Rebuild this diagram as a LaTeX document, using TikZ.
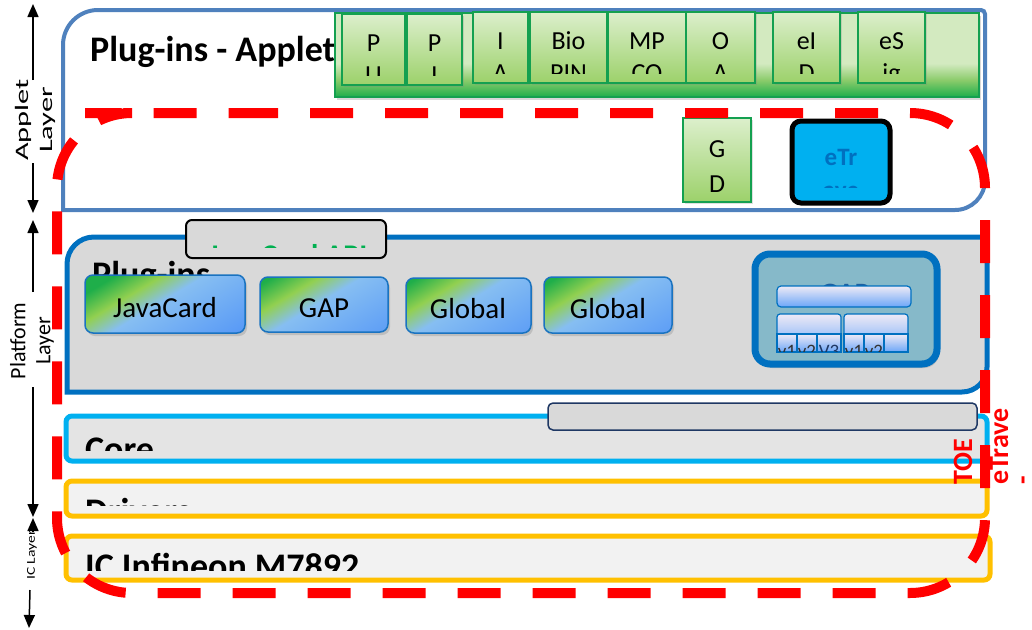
\documentclass[tikz,border=0pt]{standalone}
\usepackage{fontspec}
\setmainfont{Carlito}
\usepackage{graphicx}
\usetikzlibrary{arrows.meta,shadows,fit}
\definecolor{appblue}{HTML}{4F81BD}
\definecolor{platblue}{HTML}{0070C0}
\definecolor{coreblue}{HTML}{00B0F0}
\definecolor{drvorange}{HTML}{FFC000}
\definecolor{platgray}{HTML}{D9D9D9}
\definecolor{coregray}{HTML}{E4E4E4}
\definecolor{drvgray}{HTML}{F2F2F2}
\definecolor{gbD}{HTML}{1DAE4C}
\definecolor{gbM}{HTML}{8ACB6A}
\definecolor{gbL}{HTML}{D3EAC0}
\definecolor{gboxT}{HTML}{DCEFCC}
\definecolor{gboxB}{HTML}{9CD16A}
\definecolor{gborder}{HTML}{14A050}
\definecolor{btnG}{HTML}{1FAE4A}
\definecolor{btnY}{HTML}{92D050}
\definecolor{btnLB}{HTML}{86BEF2}
\definecolor{btnB}{HTML}{5A9BF6}
\definecolor{btnborder}{HTML}{1A73C0}
\definecolor{gapfill}{HTML}{86B9C9}
\definecolor{gaptext}{HTML}{1F5F9F}
\definecolor{barT}{HTML}{EEEAF6}
\definecolor{barB}{HTML}{6BA6F8}
\definecolor{navy}{HTML}{1F3864}
\definecolor{apigreen}{HTML}{00B050}
\definecolor{etrcyan}{HTML}{00B0F0}
\definecolor{etrtext}{HTML}{0070C0}
\pgfdeclareverticalshading{gbarsh}{100bp}{color(0bp)=(gbD); color(25bp)=(gbD); color(35bp)=(gbM); color(45bp)=(gbL); color(100bp)=(gbL)}
\pgfdeclareverticalshading{btnsh}{100bp}{color(0bp)=(btnB); color(35bp)=(btnB); color(51bp)=(btnLB); color(56.5bp)=(btnY); color(62.5bp)=(btnG); color(100bp)=(btnG)}
\newcommand{\fsz}[2]{\fontsize{#1}{#2}\selectfont}
\newcommand{\appbx}[7]{%
  \node[gbox, fit={(#2,#3) (#4,#5)}] (#1) {};
  \begin{scope}
    \clip (#2,#3) rectangle (#4,#5-10);
    \node[apptxt] (#1a) at ({(#2+#4)/2},#3+37) {#6};
    \node[apptxt] (#1b) at ({(#2+#4)/2},#3+69) {#7};
  \end{scope}}
\tikzset{
  gbox/.style={draw=gborder, line width=1.5, top color=gboxT, bottom color=gboxB, inner sep=0pt, drop shadow={opacity=0.25,shadow xshift=2pt,shadow yshift=-2pt}},
  apptxt/.style={anchor=base, inner sep=0pt, font=\fsz{26}{30}},
  hdr/.style={anchor=base west, inner sep=0pt, font={\fsz{36}{40}\bfseries}},
  btn/.style={draw=btnborder, line width=1.5, rounded corners=8, inner sep=0pt, fill=btnLB,
    drop shadow={opacity=0.3,shadow xshift=2pt,shadow yshift=-3pt},
    path picture={\shade[shading=btnsh, sharp corners, transform canvas={rotate around={31:(path picture bounding box.center)}}]
      ([shift={(-100,-100)}]path picture bounding box.center) rectangle ([shift={(100,100)}]path picture bounding box.center);}},
  btntxt/.style={anchor=base, inner sep=0pt, font=\fsz{29}{34}},
  layerbox/.style={line width=5, rounded corners=6, inner sep=0pt},
  cell/.style={draw=platblue, line width=1.2, top color=barT, bottom color=barB, inner sep=0pt},
  celltxt/.style={anchor=base, inner sep=0pt, font=\fsz{19}{22}, text=black!80},
  arr/.style={line width=1.5, -{Triangle[length=13pt,width=11pt]}},
  toe/.style={rotate=90, anchor=base west, inner sep=0pt, text=red, font={\fsz{28}{32}\bfseries}},
  sidelbl/.style={rotate=90, align=center, inner sep=0pt},
}
\begin{document}
\begin{tikzpicture}[x=1pt,y=-1pt]
\useasboundingbox (0,0) rectangle (1032,629);

% ---------- Applet layer ----------
\draw[line width=4, draw=appblue, fill=white] (63,210) -- (63,45) arc[start angle=180, end angle=270, radius=35] -- (981,10) arc[start angle=270, end angle=360, radius=4] -- (985,180) arc[start angle=0, end angle=90, radius=30] -- cycle;
\node[hdr] (apptitle) at (90,61) {Plug-ins - Applet};
\node[fit={(335,13) (979,97)}, inner sep=0pt, draw=gborder, line width=2, shade, shading=gbarsh, drop shadow={opacity=0.3,shadow xshift=2pt,shadow yshift=-3pt}] (gbar) {};
\appbx{pu}{342}{14}{405}{85}{P}{U}
\appbx{pi}{407}{14}{462}{85}{P}{I}
\appbx{ia}{473}{12}{528}{83}{I}{A}
\appbx{bio}{530}{12}{607}{83}{Bio}{PIN}
\appbx{mp}{608}{12}{686}{83}{MP}{CO}
\appbx{oa}{686}{12}{755}{83}{O}{A}
\appbx{eid}{773}{12}{840}{83}{eI}{D}
\appbx{esig}{858}{12}{925}{83}{eS}{ig}
\node[gbox, fit={(683,118) (751,202)}] (gd) {};
\node[apptxt] (gda) at (717,157) {G};
\node[apptxt] (gdb) at (717,192) {D};
\node[fit={(792,121) (890,203)}, inner sep=0pt, draw=black, line width=5, fill=etrcyan, rounded corners=9] (etr) {};
\begin{scope}
  \clip (792,121) rectangle (890,187);
  \node[anchor=base, inner sep=0pt, font={\fsz{25}{30}\bfseries}, text=etrtext] (etra) at (841,165) {eTr};
  \node[anchor=base, inner sep=0pt, font={\fsz{25}{30}\bfseries}, text=etrtext] (etrb) at (841,198) {ave};
\end{scope}

% ---------- Platform layer ----------
\draw[line width=5, draw=platblue, fill=platgray] (67,392) -- (67,264) arc[start angle=180, end angle=270, radius=27] -- (987,237) -- (987,367) arc[start angle=0, end angle=90, radius=25] -- cycle;
\node[hdr] (plugt) at (92,286) {Plug-ins};
\node[fit={(186,220) (386,258)}, inner sep=0pt, draw=black, line width=2, fill=platgray, rounded corners=6] (api) {};
\begin{scope}
  \clip (186,220) rectangle (386,247);
  \node[anchor=base, inner sep=0pt, font={\fsz{30}{36}\bfseries}, text=apigreen] (apit) at (288,265) {JavaCard API};
\end{scope}
\node[btn, fit={(85,275) (245,333)}] (jc) {};
\node[btntxt] (jct) at (165,317) {JavaCard};
\node[btn, fit={(260,277) (388,332)}] (gapb) {};
\node[btntxt] (gapbt) at (324,317) {GAP};
\node[btn, fit={(406,278) (531,333)}] (gl1) {};
\node[btntxt] (gl1t) at (468,318) {Global};
\node[btn, fit={(544,277) (672,333)}] (gl2) {};
\node[btntxt] (gl2t) at (608,318) {Global};

\node[fit={(755,254) (937,364)}, inner sep=0pt, draw=platblue, line width=7, fill=gapfill, rounded corners=15, drop shadow={opacity=0.3,shadow xshift=2pt,shadow yshift=-4pt}] (gapbox) {};
\node[anchor=base, inner sep=0pt, font={\fsz{28}{32}\bfseries}, text=gaptext] (gapt) at (845,302) {GAP};
\node[cell, rounded corners=4, fit={(777,286) (911,307)}] (gapbar) {};
\node[cell, rounded corners=3, fit={(777,314) (841,352)}] (gsubl) {};
\node[cell, rounded corners=3, fit={(844,314) (908,352)}] (gsubr) {};
\node[cell, fit={(777,334) (797,352)}] (c1) {};
\node[cell, fit={(797,334) (817,352)}] (c2) {};
\node[cell, fit={(817,334) (841,352)}] (c3) {};
\node[cell, fit={(844,334) (864,352)}] (c4) {};
\node[cell, fit={(864,334) (884,352)}] (c5) {};
\node[cell, fit={(884,334) (908,352)}] (c6) {};
\begin{scope}
  \clip (770,330) rectangle (915,351);
  \node[celltxt] (c1t) at (787,357) {v1};
  \node[celltxt] (c2t) at (807,357) {v2};
  \node[celltxt, text=navy] (c3t) at (829,357) {V3};
  \node[celltxt] (c4t) at (854,357) {v1};
  \node[celltxt] (c5t) at (874,357) {v2};
\end{scope}

% ---------- Core / Drivers / IC ----------
\node[layerbox, draw=coreblue, fill=coregray, fit={(66,416) (987,461)}] (core) {};
\begin{scope}
  \clip (66,416) rectangle (987,450);
  \node[hdr] (coret) at (85,461) {Core};
\end{scope}
\node[fit={(548,403) (977,430)}, inner sep=0pt, draw=navy, line width=1.5, fill=platgray, rounded corners=5] (corebar) {};
\node[layerbox, draw=drvorange, fill=drvgray, fit={(66,481) (987,516)}] (drv) {};
\begin{scope}
  \clip (66,481) rectangle (987,505);
  \node[hdr] (drvt) at (85,523) {Drivers};
\end{scope}
\node[layerbox, draw=drvorange, fill=drvgray, fit={(66,536) (990,580)}] (ic) {};
\begin{scope}
  \clip (66,536) rectangle (990,570);
  \node[hdr] (ict) at (85,578) {IC Infineon M7892};
\end{scope}

% ---------- TOE boundary ----------
\draw[red, line width=10, dash pattern=on 43pt off 32pt, rounded corners=75] (160,113) -- (985,113) -- (985,593) -- (57,593) -- (57,113) -- cycle;
\node[toe] (toe1) at (972,485) {TOE};
\node[toe] (toe2) at (1008,485) {eTrave};
\node[toe] (toe3) at (1031,485) {-};

% ---------- Left layer axis ----------
\coordinate (a1a) at (33,80);  \coordinate (a1b) at (33,4);
\coordinate (a2a) at (33,163); \coordinate (a2b) at (33,213);
\coordinate (p1a) at (33,292); \coordinate (p1b) at (33,220);
\coordinate (p2a) at (33,387); \coordinate (p2b) at (33,517);
\coordinate (i1a) at (33,532); \coordinate (i1b) at (33,518);
\coordinate (i2a) at (30,590); \coordinate (i2b) at (29,628);
\draw[arr] (a1a) -- (a1b);
\draw[arr] (a2a) -- (a2b);
\draw[arr] (p1a) -- (p1b);
\draw[arr] (p2a) -- (p2b);
\draw[arr] (i1a) -- (i1b);
\draw[arr] (i2a) -- (i2b);
\node[sidelbl, font=\fsz{19}{24}] (applbl) at (35,120) {\scalebox{1.6}[1]{Applet}\\\scalebox{1.6}[1]{Layer}};
\node[sidelbl, font=\fsz{22}{25}] (platlbl) at (32,341) {Platform\\Layer};
\node[sidelbl, font=\fsz{12}{14}] (iclbl) at (32,555) {\scalebox{1.3}[1]{IC Layer}};
\end{tikzpicture}
\end{document}
